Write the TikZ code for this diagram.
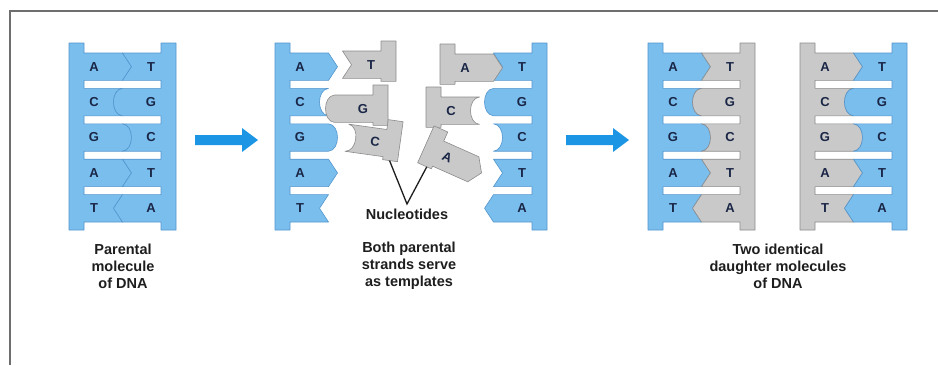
\documentclass[tikz,border=0pt]{standalone}
\usepackage{fontspec}
\setmainfont{Liberation Sans}
\definecolor{strandblue}{RGB}{122,190,238}
\definecolor{blueedge}{RGB}{84,150,205}
\definecolor{strandgray}{RGB}{201,201,201}
\definecolor{grayedge}{RGB}{140,140,140}
\definecolor{arrowblue}{RGB}{28,150,228}
\definecolor{baseink}{RGB}{26,38,70}
\definecolor{labelink}{RGB}{30,30,30}
\definecolor{framegray}{RGB}{110,110,110}

% End of a base, from (53.5,top) to (53.5,top+27.4); local x grows away from the backbone
\newcommand\bndA[1]{-- (62.5,{#1+13.7}) -- (53.5,{#1+27.4})}
\newcommand\bndT[1]{-- (44.5,{#1+13.7}) -- (53.5,{#1+27.4})}
\newcommand\bndG[1]{.. controls (65.5,{#1+1}) and (65.5,{#1+26.4}) .. (53.5,{#1+27.4})}
\newcommand\bndC[1]{.. controls (41.5,{#1+1}) and (41.5,{#1+26.4}) .. (53.5,{#1+27.4})}
% One base sticking out of the backbone at height #2
\newcommand\tooth[2]{-- (15,#2) -- (53.5,#2) \csname bnd#1\endcsname{#2} -- (15,{#2+27.4})}

% A full strand: backbone with five bases (#3..#7), letters named #2a..#2e
\newcommand\strand[7]{%
  \filldraw[#1] (0,43) -- (15,43) \tooth{#3}{53} \tooth{#4}{88.4} \tooth{#5}{123.8}
    \tooth{#6}{159.2} \tooth{#7}{194.6} -- (15,230) -- (0,230) -- cycle;
  \node[base] (#2a) at (25,66.7) {#3};
  \node[base] (#2b) at (25,102.1) {#4};
  \node[base] (#2c) at (25,137.5) {#5};
  \node[base] (#2d) at (25,172.9) {#6};
  \node[base] (#2e) at (25,208.3) {#7};}

% A single free nucleotide: short backbone piece plus one base
\newcommand\nucleotide[4]{%
  \filldraw[#1] (0,-10) -- (15,-10) \tooth{#3}{0} -- (15,30.4) -- (0,30.4) -- cycle;
  \node[base, rotate=#4] (#2) at (25,13.7) {#3};}

\tikzset{
  bluestrand/.style={fill=strandblue, draw=blueedge, line width=0.6pt, line join=round},
  graystrand/.style={fill=strandgray, draw=grayedge, line width=0.6pt, line join=round},
  base/.style={text=baseink, font=\fontsize{13}{13}\selectfont\bfseries, inner sep=0pt},
  caption/.style={text=labelink, font=\fontsize{14.5}{17}\selectfont\bfseries, align=center, inner sep=0pt},
  pointer/.style={draw=labelink, line width=1.3pt},
  bigarrow/.style={fill=arrowblue, draw=none},
}

\begin{document}
\begin{tikzpicture}[x=1pt, y=-1pt]
\useasboundingbox (0,0) rectangle (938,365);
\fill[white] (0,0) rectangle (938,365);

% frame
\draw[framegray, line width=2.5pt] (10,365) -- (10,11) -- (938,11);

% parental molecule
\begin{scope}[shift={(69,0)}]
  \strand{bluestrand}{pl}{A}{C}{G}{A}{T}
\end{scope}
\begin{scope}[shift={(176,0)}, xscale=-1]
  \strand{bluestrand}{pr}{T}{G}{C}{T}{A}
\end{scope}

% arrows
\fill[bigarrow] (195,135) -- (242,135) -- (242,128) -- (258,140) -- (242,152) -- (242,145) -- (195,145) -- cycle;
\fill[bigarrow] (566,135) -- (613,135) -- (613,128) -- (629,140) -- (613,152) -- (613,145) -- (566,145) -- cycle;

% separated strands
\begin{scope}[shift={(275,0)}]
  \strand{bluestrand}{ml}{A}{C}{G}{A}{T}
\end{scope}
\begin{scope}[shift={(547,0)}, xscale=-1]
  \strand{bluestrand}{mr}{T}{G}{C}{T}{A}
\end{scope}

% free nucleotides
\begin{scope}[shift={(396,51)}, xscale=-1]
  \nucleotide{graystrand}{nT}{T}{0}
\end{scope}
\begin{scope}[shift={(388,95)}, xscale=-1]
  \nucleotide{graystrand}{nG}{G}{0}
\end{scope}
\begin{scope}[shift={(401.7,131.6)}, rotate=-8, xscale=-1]
  \nucleotide{graystrand}{nC}{C}{-8}
  \coordinate (cfoot) at (8,30.4);
\end{scope}
\begin{scope}[shift={(440,54)}]
  \nucleotide{graystrand}{nA}{A}{0}
\end{scope}
\begin{scope}[shift={(426,97)}]
  \nucleotide{graystrand}{nC2}{C}{0}
\end{scope}
\begin{scope}[shift={(430,135)}, rotate=-24]
  \nucleotide{graystrand}{nA2}{A}{-24}
  \coordinate (afoot) at (10,30.4);
\end{scope}

% daughter molecules
\begin{scope}[shift={(648,0)}]
  \strand{bluestrand}{dal}{A}{C}{G}{A}{T}
\end{scope}
\begin{scope}[shift={(755,0)}, xscale=-1]
  \strand{graystrand}{dar}{T}{G}{C}{T}{A}
\end{scope}
\begin{scope}[shift={(800,0)}]
  \strand{graystrand}{dbl}{A}{C}{G}{A}{T}
\end{scope}
\begin{scope}[shift={(907,0)}, xscale=-1]
  \strand{bluestrand}{dbr}{T}{G}{C}{T}{A}
\end{scope}

% captions
\node[caption] (nucl) at (407,214) {Nucleotides};
\coordinate (apex) at (407,204);
\draw[pointer] (cfoot) -- (apex) -- (afoot);

\node[caption] (cap1) at (123,266) {Parental\\molecule\\of DNA};
\node[caption] (cap2) at (409,266) {Both parental\\strands serve\\as templates};
\node[caption] (cap3) at (778,266) {Two identical\\daughter molecules\\of DNA};
\end{tikzpicture}
\end{document}
